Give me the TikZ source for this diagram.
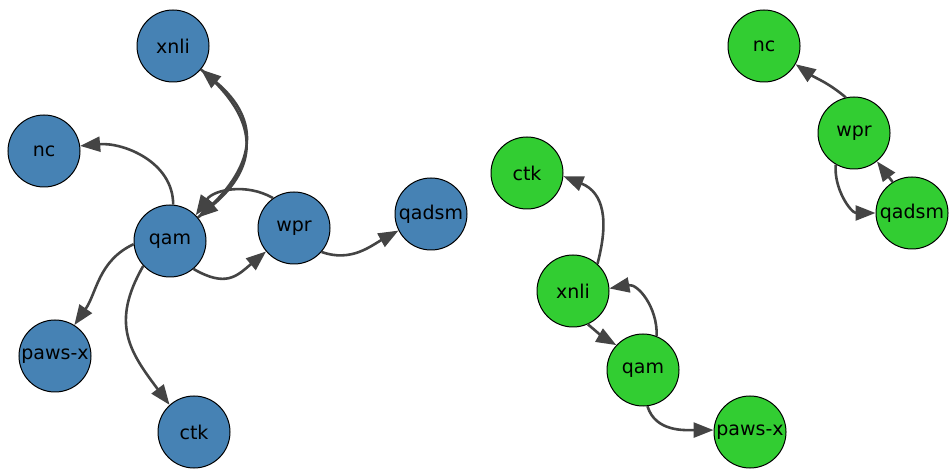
\documentclass[tikz,border=0pt]{standalone}
\usepackage{fontspec}
\setmainfont{DejaVu Sans}
\usetikzlibrary{arrows.meta}
\definecolor{bluen}{HTML}{4682B4}
\definecolor{greenn}{HTML}{32CD32}
\definecolor{edgec}{HTML}{444444}
\begin{document}
\begin{tikzpicture}[x=1pt,y=1pt,
  vtx/.style={circle, draw=black, line width=1pt, minimum size=72pt, inner sep=0pt, font=\fontsize{19}{23}\selectfont},
  bv/.style={vtx, fill=bluen},
  gv/.style={vtx, fill=greenn},
  edge/.style={draw=edgec, line width=2.6pt, -{Triangle[length=20pt,width=15pt]}}]
\useasboundingbox (0,0) rectangle (949,468);
% blue graph
\node[bv] (bxnli)  at (173,422) {xnli};
\node[bv] (bnc)    at (44,317)  {nc};
\node[bv] (bqam)   at (170,227) {qam};
\node[bv] (bwpr)   at (294,240) {wpr};
\node[bv] (bqadsm) at (431,254) {qadsm};
\node[bv] (bpawsx) at (55,112)  {paws-x};
\node[bv] (bctk)   at (194,36)  {ctk};
% green graph
\node[gv] (gnc)    at (764,422) {nc};
\node[gv] (gwpr)   at (854,335) {wpr};
\node[gv] (gqadsm) at (912,255) {qadsm};
\node[gv] (gctk)   at (527,295) {ctk};
\node[gv] (gxnli)  at (573,177) {xnli};
\node[gv] (gqam)   at (643,98)  {qam};
\node[gv] (gpawsx) at (750,36)  {paws-x};
% blue edges
\draw[edge] (bqam.85) to[out=90,in=5] (bnc.8);
\draw[edge] (bqam.40) to[out=40,in=-40,looseness=1.36] (bxnli.-40);
\draw[edge] (bxnli.-40) to[out=-40,in=40,looseness=1.36] (bqam.40);
\draw[edge] (bwpr.125) to[out=150,in=55] (bqam.45);
\draw[edge] (bqam.-50) to[out=-30,in=-140,looseness=1.3] (bwpr.-140);
\draw[edge] (bwpr.-41) to[out=-20,in=-151] (bqadsm.-153);
\draw[edge] (bqam.185) to[out=205,in=55] (bpawsx.58);
\draw[edge] (bqam.223) to[out=240,in=127,looseness=1.2] (bctk.132);
% green edges
\draw[edge] (gxnli.48) to[out=75,in=-22,looseness=1.2] (gctk.-5);
\draw[edge] (gxnli.-66) to[out=-40,in=150] (gqam.137);
\draw[edge] (gqam.68) to[out=88,in=10,looseness=1.1] (gxnli.4);
\draw[edge] (gwpr.103) to[out=140,in=-35] (gnc.-30);
\draw[edge] (gwpr.-120) to[out=-95,in=180] (gqadsm.180);
\draw[edge] (gqadsm.122) -- (gwpr.-51);
\draw[edge] (gqam.-83) to[out=-73,in=180] (gpawsx.177);
\end{tikzpicture}
\end{document}
